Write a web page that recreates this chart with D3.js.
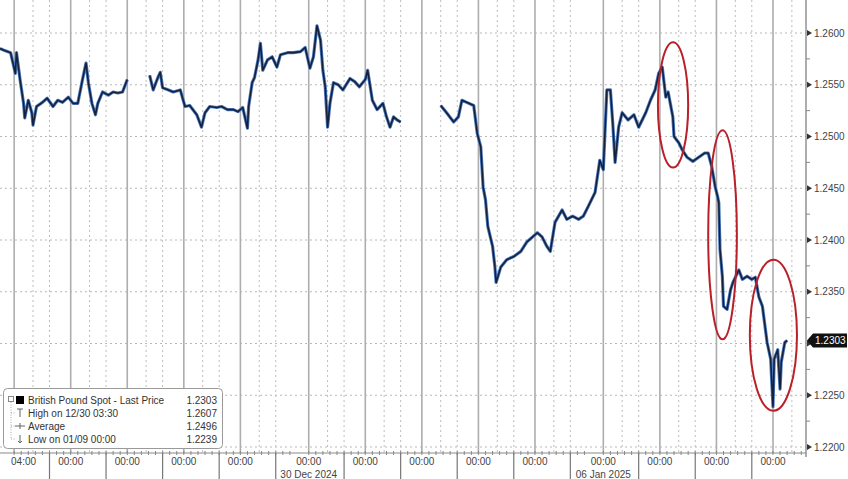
<!DOCTYPE html>
<html><head><meta charset="utf-8">
<script src="https://cdn.jsdelivr.net/npm/d3@7"></script>
<style>
body{margin:0;background:#fff}
svg{display:block}
text{font-family:"Liberation Sans",Arial,sans-serif}
</style>
</head><body>
<svg id="chart" width="848" height="479"></svg>
<script>
// ---------------- DATA ----------------
const times = [
"2024-12-22T18:00","2024-12-22T20:00","2024-12-22T22:30","2024-12-22T23:30",
"2024-12-23T00:30","2024-12-23T01:00","2024-12-23T02:30","2024-12-23T04:00","2024-12-23T04:30","2024-12-23T06:00",
"2024-12-23T07:30","2024-12-23T08:00","2024-12-23T09:30","2024-12-23T12:00","2024-12-23T14:00","2024-12-23T16:30",
"2024-12-23T18:30","2024-12-23T20:30","2024-12-23T23:00",
"2024-12-24T01:00","2024-12-24T03:00","2024-12-24T05:00","2024-12-24T06:30","2024-12-24T07:30","2024-12-24T09:00",
"2024-12-24T10:30","2024-12-24T11:30","2024-12-24T13:30","2024-12-24T16:00","2024-12-24T18:00","2024-12-24T20:00",
"2024-12-24T22:00","2024-12-25T00:00","2024-12-25T05:00",
"2024-12-25T09:30","2024-12-25T11:00","2024-12-25T13:00","2024-12-25T14:00","2024-12-25T15:00","2024-12-25T17:30",
"2024-12-25T19:30","2024-12-25T22:30",
"2024-12-26T00:30","2024-12-26T02:30","2024-12-26T05:30","2024-12-26T07:30","2024-12-26T09:00","2024-12-26T11:00",
"2024-12-26T14:00","2024-12-26T16:00","2024-12-26T18:30","2024-12-26T21:00","2024-12-26T23:00",
"2024-12-27T01:00","2024-12-27T03:00","2024-12-27T03:30","2024-12-27T05:00","2024-12-27T06:00","2024-12-27T07:30",
"2024-12-27T08:30","2024-12-27T09:30","2024-12-27T11:30","2024-12-27T13:30","2024-12-27T15:30","2024-12-27T17:00",
"2024-12-27T20:00","2024-12-27T22:30",
"2024-12-29T20:30","2024-12-29T22:30",
"2024-12-30T00:30","2024-12-30T02:00","2024-12-30T03:30","2024-12-30T05:00","2024-12-30T06:00","2024-12-30T07:00",
"2024-12-30T08:00","2024-12-30T09:00","2024-12-30T10:30","2024-12-30T12:30","2024-12-30T14:30","2024-12-30T17:30",
"2024-12-30T19:30","2024-12-30T21:30",
"2024-12-31T00:00","2024-12-31T01:00","2024-12-31T03:00","2024-12-31T05:00","2024-12-31T07:30","2024-12-31T09:00",
"2024-12-31T10:30","2024-12-31T12:00","2024-12-31T13:30","2024-12-31T15:00","2024-12-31T20:00",
"2025-01-01T08:00","2025-01-01T10:30","2025-01-01T13:30","2025-01-01T15:30","2025-01-01T17:00","2025-01-01T19:00",
"2025-01-01T22:00","2025-01-01T23:30",
"2025-01-02T01:00","2025-01-02T02:00","2025-01-02T03:00","2025-01-02T04:00","2025-01-02T06:00","2025-01-02T07:00",
"2025-01-02T07:30","2025-01-02T09:30","2025-01-02T12:00","2025-01-02T15:00","2025-01-02T18:00","2025-01-02T20:30",
"2025-01-02T23:00",
"2025-01-03T01:00","2025-01-03T03:00","2025-01-03T05:00","2025-01-03T06:30","2025-01-03T08:30","2025-01-03T11:30",
"2025-01-03T13:30","2025-01-03T16:00","2025-01-03T18:30","2025-01-03T20:30","2025-01-03T22:30",
"2025-01-05T20:30","2025-01-05T22:30",
"2025-01-06T00:00","2025-01-06T01:30","2025-01-06T03:00","2025-01-06T04:00","2025-01-06T05:00","2025-01-06T06:30",
"2025-01-06T08:00","2025-01-06T10:30","2025-01-06T13:00","2025-01-06T15:00","2025-01-06T18:00","2025-01-06T20:00",
"2025-01-06T22:00","2025-01-06T23:30",
"2025-01-07T01:00","2025-01-07T02:30","2025-01-07T03:30","2025-01-07T05:30","2025-01-07T06:00","2025-01-07T08:00",
"2025-01-07T09:30","2025-01-07T11:30","2025-01-07T14:00","2025-01-07T16:30","2025-01-07T19:00","2025-01-07T20:30",
"2025-01-07T22:00","2025-01-07T23:30",
"2025-01-08T00:30","2025-01-08T01:00","2025-01-08T01:30","2025-01-08T02:30","2025-01-08T03:00","2025-01-08T04:30",
"2025-01-08T06:00","2025-01-08T07:00","2025-01-08T09:30","2025-01-08T11:00","2025-01-08T13:00","2025-01-08T15:00",
"2025-01-08T16:30","2025-01-08T18:00","2025-01-08T19:30","2025-01-08T21:30","2025-01-08T23:00",
"2025-01-09T00:00","2025-01-09T00:30","2025-01-09T02:00","2025-01-09T03:00","2025-01-09T03:30","2025-01-09T05:00",
"2025-01-09T06:00"
];
const prices = [
1.2585,1.2583,1.2581,1.2571,
1.2561,1.2581,1.2555,1.2532,1.2518,1.2535,
1.2523,1.2511,1.2529,1.2533,1.2537,1.2529,
1.2535,1.2533,1.2538,
1.2532,1.2532,1.2555,1.2571,1.2552,1.2532,
1.2521,1.2532,1.2543,1.2540,1.2543,1.2542,
1.2543,1.2555,null,
1.2559,1.2545,1.2557,1.2562,1.2547,1.2545,
1.2543,1.2545,
1.2529,1.2530,1.2521,1.2509,1.2523,1.2529,
1.2528,1.2529,1.2526,1.2526,1.2524,
1.2528,1.2508,1.2529,1.2552,1.2557,1.2574,
1.2590,1.2564,1.2574,1.2577,1.2567,1.2579,
1.2581,1.2581,
1.2582,1.2586,
1.2566,1.2577,1.2607,1.2593,1.2564,1.2548,
1.2509,1.2532,1.2552,1.2550,1.2545,1.2556,
1.2553,1.2548,
1.2555,1.2564,1.2535,1.2526,1.2532,1.2519,
1.2509,1.2519,1.2516,1.2514,null,
1.2530,1.2523,1.2514,1.2519,1.2535,1.2533,
1.2530,1.2503,
1.2490,1.2451,1.2439,1.2413,1.2394,1.2374,
1.2359,1.2374,1.2381,1.2384,1.2389,1.2398,
1.2403,
1.2407,1.2403,1.2394,1.2389,1.2417,1.2429,
1.2420,1.2423,1.2420,1.2423,1.2432,
1.2446,1.2477,
1.2468,1.2545,1.2545,1.2513,1.2475,1.2509,
1.2523,1.2516,1.2521,1.2509,1.2523,1.2535,
1.2545,1.2561,
1.2567,1.2538,1.2543,1.2519,1.2500,1.2494,
1.2487,1.2480,1.2476,1.2480,1.2484,1.2484,
1.2471,1.2451,
1.2442,1.2436,1.2391,1.2365,1.2336,1.2333,
1.2352,1.2359,1.2371,1.2362,1.2365,1.2362,
1.2364,1.2345,1.2336,1.2301,1.2285,
1.2239,1.2285,1.2294,1.2256,1.2282,1.2301,
1.2303
];
const averagePrice = 1.2496;
const seriesName = "British Pound Spot - Last Price";
const yTicks = [1.2200,1.2250,1.2300,1.2350,1.2400,1.2450,1.2500,1.2550,1.2600];
const tradingDays = ["2024-12-23","2024-12-24","2024-12-25","2024-12-26","2024-12-27","2024-12-30","2024-12-31",
  "2025-01-01","2025-01-02","2025-01-03","2025-01-06","2025-01-07","2025-01-08","2025-01-09"];
const xLabelTimes = ["2024-12-23T04:00","2024-12-24T00:00","2024-12-25T00:00","2024-12-26T00:00","2024-12-27T00:00",
  "2024-12-30T00:00","2024-12-31T00:00","2025-01-01T00:00","2025-01-02T00:00","2025-01-03T00:00",
  "2025-01-06T00:00","2025-01-07T00:00","2025-01-08T00:00","2025-01-09T00:00"];
const dateLabelTimes = ["2024-12-30T00:00","2025-01-06T00:00"];
const weekendGaps = [["2024-12-28T00:00","2024-12-29T19:00"],["2025-01-04T00:00","2025-01-05T19:00"]];
const viewRange = ["2024-12-22T18:00","2025-01-09T14:00"];
// highlighted moves: [startTime, endTime, highPrice, lowPrice]
const highlights = [
  ["2025-01-06T23:10","2025-01-07T12:00",1.2591,1.2470],
  ["2025-01-07T20:30","2025-01-08T08:40",1.2506,1.2304],
  ["2025-01-08T14:10","2025-01-09T10:10",1.2381,1.2235]
];

// ---------------- SETUP ----------------
const parse = d3.timeParse("%Y-%m-%dT%H:%M");
const parseDay = d3.timeParse("%Y-%m-%d");
const t0 = parse(viewRange[0]), t1 = parse(viewRange[1]);
const gaps = weekendGaps.map(g => g.map(parse));
function tradeHours(d){
  let h = (d - t0)/36e5;
  for (const [a,b] of gaps){
    const s = Math.max(+t0, +a), e = Math.min(+d, +b);
    if (e > s) h -= (e - s)/36e5;
  }
  return h;
}
const W = 848, H = 479;
const plotRight = 806, axisY = 453;
const xh = d3.scaleLinear().domain([0, tradeHours(t1)]).range([0, plotRight]);
const X = d => xh(tradeHours(d));
const y = d3.scaleLinear().domain([1.22, 1.26]).range([447, 33]);

const data = times.map((t,i) => ({t: parse(t), v: prices[i]}));
const svg = d3.select("#chart");

// horizontal dotted grid
svg.append("g").selectAll("line").data(yTicks).join("line")
  .attr("x1",0).attr("x2",plotRight).attr("y1",d=>y(d)).attr("y2",d=>y(d))
  .attr("stroke","#b8b8b8").attr("stroke-width",1).attr("stroke-dasharray","2,3");

// vertical dotted grid at 08:00 and 15:00
const dotTimes = [];
tradingDays.forEach(ds => {
  [8,15].forEach(hr => {
    const d = parseDay(ds); d.setHours(hr);
    if (d < t1) dotTimes.push(d);
  });
});
svg.append("g").selectAll("line").data(dotTimes).join("line")
  .attr("x1",d=>X(d)).attr("x2",d=>X(d)).attr("y1",0).attr("y2",axisY)
  .attr("stroke","#bdbdbd").attr("stroke-width",1).attr("stroke-dasharray","2,3");

// solid midnight lines
const mids = tradingDays.map(parseDay);
svg.append("g").selectAll("line").data(mids).join("line")
  .attr("x1",d=>X(d)).attr("x2",d=>X(d)).attr("y1",0).attr("y2",axisY)
  .attr("stroke","#adadad").attr("stroke-width",1.6);

// price line
const line = d3.line().defined(d=>d.v!=null).x(d=>X(d.t)).y(d=>y(d.v));
svg.append("path").datum(data).attr("d",line).attr("fill","none")
  .attr("stroke","#4a7cc2").attr("stroke-width",3.2).attr("stroke-linejoin","round");
svg.append("path").datum(data).attr("d",line).attr("fill","none")
  .attr("stroke","#17203a").attr("stroke-width",1.6).attr("stroke-linejoin","round");

// highlight ellipses
svg.append("g").selectAll("ellipse").data(highlights).join("ellipse")
  .attr("cx",d=>(X(parse(d[0]))+X(parse(d[1])))/2)
  .attr("cy",d=>(y(d[2])+y(d[3]))/2)
  .attr("rx",d=>(X(parse(d[1]))-X(parse(d[0])))/2)
  .attr("ry",d=>(y(d[3])-y(d[2]))/2)
  .attr("fill","none").attr("stroke","#b8202a").attr("stroke-width",2);

// axes lines
svg.append("line").attr("x1",0).attr("x2",plotRight).attr("y1",axisY).attr("y2",axisY)
  .attr("stroke","#8a8a8a").attr("stroke-width",1.2);
svg.append("line").attr("x1",plotRight).attr("x2",plotRight).attr("y1",0).attr("y2",axisY+4)
  .attr("stroke","#8a8a8a").attr("stroke-width",1.4);

// x minor ticks every 3 hours
const minor = [];
tradingDays.forEach(ds => { for (let hr=0; hr<24; hr+=3){ const d=parseDay(ds); d.setHours(hr); if (d<t1) minor.push(d);} });
svg.append("g").selectAll("line").data(minor).join("line")
  .attr("x1",d=>X(d)).attr("x2",d=>X(d)).attr("y1",axisY-2).attr("y2",axisY+2)
  .attr("stroke","#888").attr("stroke-width",1);
// separators at 15:00
const seps = dotTimes.filter(d => d.getHours()===15);
svg.append("g").selectAll("line").data(seps).join("line")
  .attr("x1",d=>X(d)).attr("x2",d=>X(d)).attr("y1",axisY).attr("y2",H)
  .attr("stroke","#777").attr("stroke-width",1.2);
// x labels
const fmtH = d3.timeFormat("%H:%M"), fmtD = d3.timeFormat("%d %b %Y");
svg.append("g").selectAll("text").data(xLabelTimes.map(parse)).join("text")
  .attr("x",d=>X(d)).attr("y",465).attr("text-anchor","middle")
  .attr("font-size",10).attr("fill","#444").text(d=>fmtH(d));
svg.append("g").selectAll("text").data(dateLabelTimes.map(parse)).join("text")
  .attr("x",d=>X(d)).attr("y",478).attr("text-anchor","middle")
  .attr("font-size",10).attr("fill","#444").text(d=>fmtD(d));

// last price
const last = prices[prices.length-1];
const ly = y(last);

// y ticks (arrows), minor ticks and labels (label hidden under the last-price tag)
svg.append("g").selectAll("path").data(yTicks).join("path")
  .attr("d",d=>`M${plotRight+1},${y(d)-3}L${plotRight+6},${y(d)}L${plotRight+1},${y(d)+3}Z`)
  .attr("fill","#333");
svg.append("g").selectAll("line").data(yTicks.slice(0,-1).map(v=>v+0.0025)).join("line")
  .attr("x1",plotRight).attr("x2",plotRight+4).attr("y1",d=>y(d)).attr("y2",d=>y(d))
  .attr("stroke","#888");
svg.append("g").selectAll("text").data(yTicks.filter(v=>Math.abs(y(v)-ly)>12)).join("text")
  .attr("x",plotRight+8).attr("y",d=>y(d)+3.5).attr("font-size",10).attr("fill","#444")
  .text(d=>d.toFixed(4));

// last price tag
svg.append("path")
  .attr("d",`M${plotRight+1},${ly}L${plotRight+7},${ly-7}L${W-1},${ly-7}L${W-1},${ly+7}L${plotRight+7},${ly+7}Z`)
  .attr("fill","#111");
svg.append("text").attr("x",plotRight+9).attr("y",ly+3.5).attr("font-size",10).attr("fill","#fff")
  .text(last.toFixed(4));

// legend
const valid = data.filter(d=>d.v!=null);
const hi = valid.reduce((a,b)=>b.v>a.v?b:a), lo = valid.reduce((a,b)=>b.v<a.v?b:a);
const fmtMD = d3.timeFormat("%m/%d %H:%M");
const rows = [
  [seriesName, last],
  ["High on " + fmtMD(hi.t), hi.v],
  ["Average", averagePrice],
  ["Low on " + fmtMD(lo.t), lo.v]
];
const lg = svg.append("g");
lg.append("rect").attr("x",3.5).attr("y",388.5).attr("width",219).attr("height",60).attr("rx",4)
  .attr("fill","#fff").attr("stroke","#9a9a9a");
const rowY = [400, 413, 426, 439];
lg.selectAll("text.l").data(rows).join("text").attr("class","l")
  .attr("x",28).attr("y",(d,i)=>rowY[i]+3.5).attr("font-size",10).attr("fill","#333").text(d=>d[0]);
lg.selectAll("text.v").data(rows).join("text").attr("class","v")
  .attr("x",217).attr("y",(d,i)=>rowY[i]+3.5).attr("font-size",10).attr("fill","#333")
  .attr("text-anchor","end").text(d=>d[1].toFixed(4));
// tree & icons
lg.append("rect").attr("x",8.5).attr("y",396.5).attr("width",5).attr("height",5).attr("fill","none").attr("stroke","#888");
lg.append("path").attr("d",`M11,402V${rowY[3]}M11,${rowY[1]}H16M11,${rowY[2]}H15M11,${rowY[3]}H16`)
  .attr("stroke","#aaa").attr("stroke-dasharray","1,1.5").attr("fill","none");
lg.append("rect").attr("x",16).attr("y",rowY[0]-4).attr("width",8).attr("height",8).attr("fill","#000");
lg.append("path").attr("d",`M17,${rowY[1]-4}H23M20,${rowY[1]-4}V${rowY[1]+4}`).attr("stroke","#666").attr("fill","none");
lg.append("path").attr("d",`M15,${rowY[2]}H25M20,${rowY[2]-3}V${rowY[2]+3}`).attr("stroke","#666").attr("fill","none");
lg.append("path").attr("d",`M20,${rowY[3]-4}V${rowY[3]+4}M18,${rowY[3]+2}L20,${rowY[3]+4}L22,${rowY[3]+2}`).attr("stroke","#666").attr("fill","none");
</script>
</body></html>
